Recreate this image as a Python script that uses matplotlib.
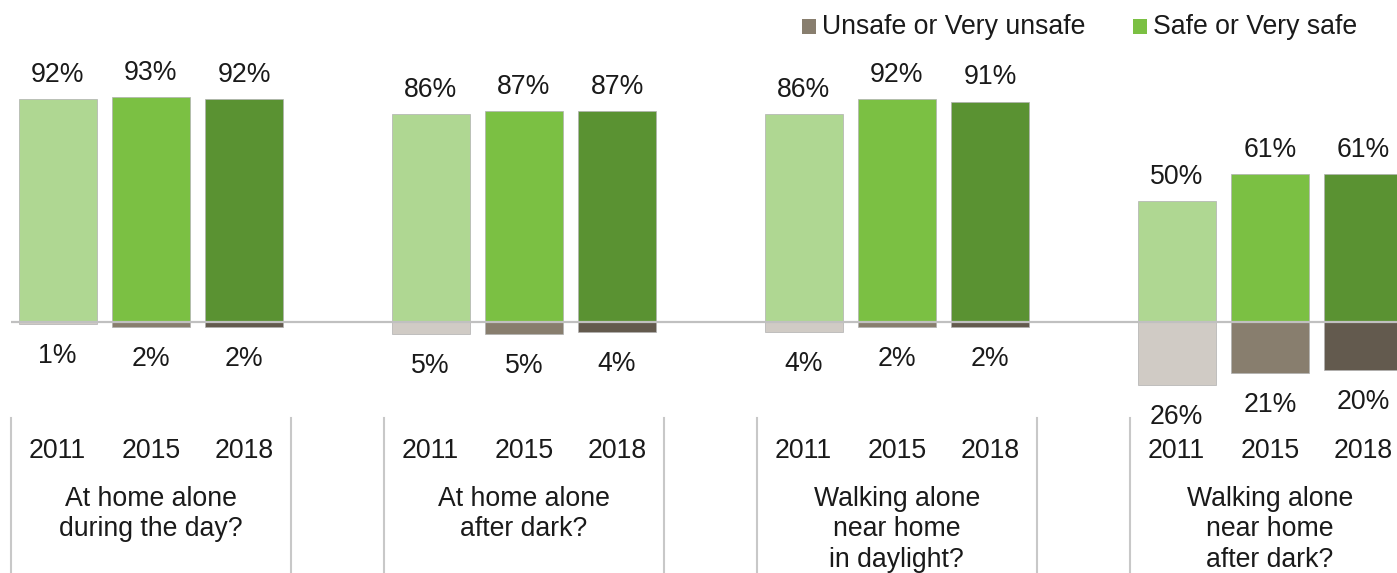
import matplotlib
matplotlib.use("Agg")
import matplotlib.pyplot as plt
from matplotlib.patches import Rectangle
import matplotlib.transforms as mtransforms

plt.rcParams['font.family'] = ['Liberation Sans', 'DejaVu Sans']

years = ["2011", "2015", "2018"]
groups = ["At home alone\nduring the day?", "At home alone\nafter dark?",
          "Walking alone\nnear home\nin daylight?", "Walking alone\nnear home\nafter dark?"]
safe = [[92, 93, 92], [86, 87, 87], [86, 92, 91], [50, 61, 61]]
unsafe = [[1, 2, 2], [5, 5, 4], [4, 2, 2], [26, 21, 20]]
safe_colors = ["#afd792", "#7bc043", "#5a9232"]
unsafe_colors = ["#d0cbc5", "#887e6e", "#635a4e"]
legend_labels = ["Unsafe or Very unsafe", "Safe or Very safe"]

W, H = 1397, 573
fig = plt.figure(figsize=(W / 100, H / 100), dpi=100)
ax = fig.add_axes([0, 0, 1, 1])
ax.axis('off')

slot_px = 93.25
left_px = 11
base_px = 322
scale = 2.42
x0 = -0.5 - left_px / slot_px
ax.set_xlim(x0, x0 + W / slot_px)
ax.set_ylim(-(H - base_px) / scale, base_px / scale)

FS = 19.2
bw = 0.836
blend = mtransforms.blended_transform_factory(ax.transData, ax.transAxes)

for g, (s_vals, u_vals) in enumerate(zip(safe, unsafe)):
    for i in range(3):
        x = g * 4 + i
        ax.bar(x, s_vals[i], width=bw, color=safe_colors[i], edgecolor="#b0b0b0", linewidth=0.5, zorder=2)
        ax.bar(x, -u_vals[i], width=bw, color=unsafe_colors[i], edgecolor="#b0b0b0", linewidth=0.5, zorder=2)
        ax.annotate(f"{s_vals[i]}%", (x, s_vals[i]), xytext=(0, 17.5), textcoords="offset points",
                    ha="center", va="center", fontsize=FS, color="#1a1a1a")
        ax.annotate(f"{u_vals[i]}%", (x, -u_vals[i]), xytext=(0, -23), textcoords="offset points",
                    ha="center", va="center", fontsize=FS, color="#1a1a1a")
        ax.text(x, 1 - 451 / H, years[i], transform=blend, ha="center", va="center",
                fontsize=FS, color="#1a1a1a")
    ax.text(g * 4 + 1, 1 - 486 / H, groups[g], transform=blend, ha="center", va="top",
            fontsize=FS, color="#1a1a1a", linespacing=1.22)

# baseline
ax.plot([-0.5, x0 + W / slot_px], [0, 0], color="#c0c0c0", linewidth=1.6, zorder=3, solid_capstyle="butt")

# category separators
for b in [-0.5, 2.5, 3.5, 6.5, 7.5, 10.5, 11.5]:
    ax.plot([b, b], [1 - 418 / H, 0], transform=blend, color="#c8c8c8", linewidth=1.5, zorder=1)

# legend
leg_items = [(802, 822, unsafe_colors[1], legend_labels[0]), (1133, 1153, safe_colors[1], legend_labels[1])]
for px, tx, col, lab in leg_items:
    fig.patches.append(Rectangle((px / W, 1 - 34 / H), 14 / W, 15 / H, transform=fig.transFigure,
                                 facecolor=col, edgecolor="none"))
    fig.text(tx / W, 1 - 27 / H, lab, ha="left", va="center", fontsize=FS, color="#1a1a1a")

fig.savefig("out.png", dpi=100)
